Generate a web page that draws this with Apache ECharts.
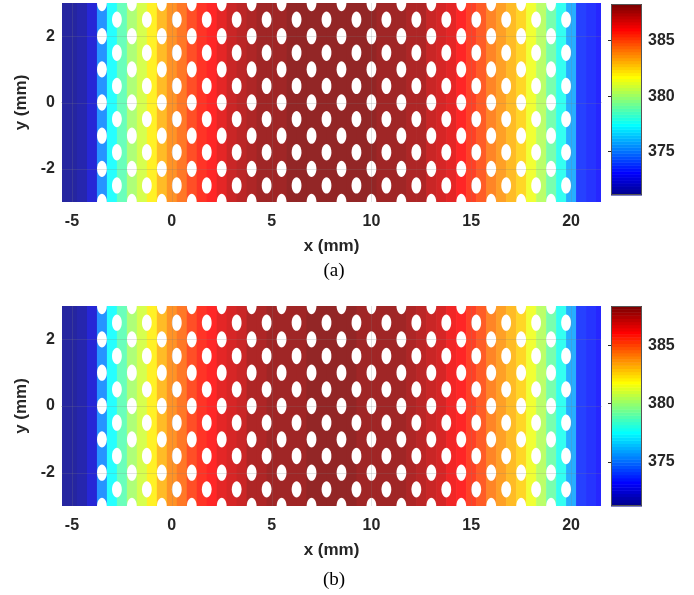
<!DOCTYPE html>
<html><head><meta charset="utf-8">
<script src="https://cdn.jsdelivr.net/npm/echarts@6/dist/echarts.min.js"></script>
<style>html,body{margin:0;padding:0;background:#fff}#c{width:694px;height:595px}</style>
</head><body><div id="c"></div>
<script>
// ---- data ----
const cellX = [-5.5,-5,-4.5,-4,-3.5,-3,-2.5,-2,-1.5,-1,-0.5,0,0.5,1,1.5,2,2.5,3,3.5,4,4.5,5,5.5,6,6.5,7,7.5,8,8.5,9,9.5,10,10.5,11,11.5,12,12.5,13,13.5,14,14.5,15,15.5,16,16.5,17,17.5,18,18.5,19,19.5,20,20.5,21,21.5];
const tempA = [371.2,371.3,371.5,372.4,375.2,377.4,378.8,380.0,381.0,382.0,383.0,383.8,384.5,385.1,385.7,386.1,386.6,387.0,387.3,387.6,387.8,387.9,388.0,388.1,388.1,388.2,388.2,388.2,388.2,388.2,388.1,388.1,388.0,388.0,387.9,387.7,387.5,387.2,386.9,386.5,386.1,385.5,384.9,384.2,383.7,383.1,382.4,381.5,380.3,378.9,377.6,375.8,373.6,373.3,373.2];
const tempB = [371.3,371.4,371.6,372.5,375.3,377.5,378.9,380.1,381.1,382.1,383.1,383.9,384.6,385.2,385.8,386.2,386.6,387.0,387.3,387.6,387.8,387.9,388.0,388.1,388.1,388.2,388.2,388.2,388.2,388.2,388.1,388.1,388.0,388.0,387.9,387.7,387.5,387.2,386.9,386.5,386.1,385.6,385.0,384.3,383.8,383.2,382.5,381.6,380.4,379.0,377.7,375.9,373.7,373.4,373.3];
const holeColX = [-3.5,-2.75,-2,-1.25,-0.5,0.25,1,1.75,2.5,3.25,4,4.75,5.5,6.25,7,7.75,8.5,9.25,10,10.75,11.5,12.25,13,13.75,14.5,15.25,16,16.75,17.5,18.25,19,19.75];
const holeRowsEven = [-3,-2,-1,0,1,2,3];
const holeRowsOdd = [-2.5,-1.5,-0.5,0.5,1.5,2.5];
const holeRadius = 0.245;
const xTicks = [-5,0,5,10,15,20];
const yTicks = [-2,0,2];
const cbTicks = [375,380,385];
const xRange = [-5.5,21.5];
const yRange = [-3,3];
const cRangeA = [371.1,388.3];
const cRangeB = [371.2,388.4];

// ---- colormap (jet, 64 levels) ----
function clamp(v){return Math.max(0,Math.min(1,v));}
function jet(t){
  return [clamp(1.5-Math.abs(4*t-3)),clamp(1.5-Math.abs(4*t-2)),clamp(1.5-Math.abs(4*t-1))];
}
function jetIndexColor(k, alpha){ // k = 1..64
  const c = jet(k/64);
  const m = v => Math.round(255*(alpha*v + (1-alpha)));
  return 'rgb('+m(c[0])+','+m(c[1])+','+m(c[2])+')';
}
function valueColor(v, range, alpha){
  let k = Math.floor((v-range[0])/(range[1]-range[0])*64)+1;
  k = Math.max(1,Math.min(64,k));
  return jetIndexColor(k, alpha);
}

// ---- build ----
const holes = [];
holeColX.forEach((x,i)=>{
  (i%2===0?holeRowsEven:holeRowsOdd).forEach(y=>holes.push([x,y]));
});
const cbLevels = [];
for (let k=1;k<=64;k++) cbLevels.push(k);

const FONT = 'Liberation Sans, Arial, Helvetica, sans-serif';
const TXT = '#262626';

function panel(idx, temps, cRange, top, height, cbTop, cbHeight){
  const gMain = idx*2, gCb = idx*2+1;
  const grids = [
    {left:62, top:top, width:539, height:height},
    {left:611, top:cbTop, width:31, height:cbHeight}
  ];
  const xAxes = [
    {gridIndex:gMain, type:'value', min:xRange[0], max:xRange[1],
      axisLine:{show:true, lineStyle:{color:'#9a9a9a', width:1}},
      axisTick:{show:true, inside:true, length:4, customValues:xTicks, lineStyle:{color:TXT}},
      axisLabel:{customValues:xTicks, color:TXT, fontFamily:FONT, fontWeight:'bold', fontSize:16, margin:12},
      splitLine:{show:false},
      name:'x (mm)', nameLocation:'middle', nameGap:36,
      nameTextStyle:{color:TXT, fontFamily:FONT, fontWeight:'bold', fontSize:17}},
    {gridIndex:gCb, type:'value', min:0, max:1, show:false}
  ];
  const yAxes = [
    {gridIndex:gMain, type:'value', min:yRange[0], max:yRange[1],
      axisLine:{show:false},
      axisTick:{show:true, inside:true, length:4, customValues:yTicks, lineStyle:{color:TXT}},
      axisLabel:{customValues:yTicks, color:TXT, fontFamily:FONT, fontWeight:'bold', fontSize:16, margin:7},
      splitLine:{show:false},
      name:'y (mm)', nameLocation:'middle', nameGap:27,
      nameTextStyle:{color:TXT, fontFamily:FONT, fontWeight:'bold', fontSize:17}},
    {gridIndex:gCb, type:'value', position:'right', min:cRange[0], max:cRange[1],
      axisLine:{show:false},
      axisTick:{show:true, inside:true, length:3, customValues:cbTicks, lineStyle:{color:TXT}},
      axisLabel:{customValues:cbTicks, color:TXT, fontFamily:FONT, fontWeight:'bold', fontSize:16, margin:6},
      splitLine:{show:false}}
  ];
  const series = [
    { // temperature cells
      type:'custom', xAxisIndex:gMain, yAxisIndex:gMain, clip:true, z:2, silent:true,
      data: cellX.map((x,i)=>[x, temps[i]]),
      renderItem:(params, api)=>{
        const i = params.dataIndex;
        const x = api.value(0);
        const l = i>0 ? (cellX[i-1]+x)/2 : xRange[0];
        const r = i<cellX.length-1 ? (cellX[i+1]+x)/2 : xRange[1];
        const p0 = api.coord([l, yRange[1]]);
        const p1 = api.coord([r, yRange[0]]);
        return {type:'rect', shape:{x:p0[0], y:p0[1], width:p1[0]-p0[0]+0.6, height:p1[1]-p0[1]},
          style:{fill:valueColor(api.value(1), cRange, 0.85), stroke:null}};
      }
    },
    { // holes
      type:'custom', xAxisIndex:gMain, yAxisIndex:gMain, clip:true, z:3, silent:true,
      data: holes,
      renderItem:(params, api)=>{
        const c = api.coord([api.value(0), api.value(1)]);
        const s = api.size([holeRadius, holeRadius]);
        return {type:'ellipse', shape:{cx:c[0], cy:c[1], rx:s[0], ry:s[1]}, style:{fill:'#ffffff'}};
      }
    },
    { // grid lines
      type:'custom', xAxisIndex:gMain, yAxisIndex:gMain, clip:true, z:4, silent:true,
      data: xTicks.map(v=>[v, 0, 0]).concat(yTicks.map(v=>[0, v, 1])),
      renderItem:(params, api)=>{
        const cs = params.coordSys;
        let shape;
        if (api.value(2)===0){
          const p = api.coord([api.value(0), 0]);
          shape = {x1:Math.round(p[0])+0.5, y1:cs.y, x2:Math.round(p[0])+0.5, y2:cs.y+cs.height};
        } else {
          const p = api.coord([0, api.value(1)]);
          shape = {x1:cs.x, y1:Math.round(p[1])+0.5, x2:cs.x+cs.width, y2:Math.round(p[1])+0.5};
        }
        return {type:'line', shape:shape, style:{stroke:'rgba(128,128,128,0.22)', lineWidth:1}};
      }
    },
    { // colorbar
      type:'custom', xAxisIndex:gCb, yAxisIndex:gCb, clip:false, z:2, silent:true,
      data: cbLevels.map(k=>[0.5, k]),
      renderItem:(params, api)=>{
        const k = api.value(1);
        const cs = params.coordSys;
        const h = cs.height/64;
        const yb = cs.y + cs.height - (k)*h;
        const items = [{type:'rect', shape:{x:cs.x, y:yb, width:cs.width, height:h+0.5},
          style:{fill:jetIndexColor(k,1)}}];
        if (k===64){
          items.push({type:'rect', shape:{x:cs.x+0.5, y:cs.y+0.5, width:cs.width-1, height:cs.height-1},
            style:{fill:null, stroke:'#555555', lineWidth:1}, z2:10});
        }
        return {type:'group', children:items};
      }
    }
  ];
  return {grids, xAxes, yAxes, series};
}

const pa = panel(0, tempA, cRangeA, 3, 199, 4, 191);
const pb = panel(1, tempB, cRangeB, 306, 200, 306, 200);

const chart = echarts.init(document.getElementById('c'), null, {renderer:'canvas'});
chart.setOption({
  animation:false,
  backgroundColor:'#ffffff',
  grid: pa.grids.concat(pb.grids),
  xAxis: pa.xAxes.concat(pb.xAxes),
  yAxis: pa.yAxes.concat(pb.yAxes),
  series: pa.series.concat(pb.series),
  graphic: [
    {type:'text', x:334, y:271, style:{text:'(a)', fill:'#000', font:'19px "Liberation Serif", "Times New Roman", serif', textAlign:'center', textVerticalAlign:'middle'}},
    {type:'text', x:334, y:580, style:{text:'(b)', fill:'#000', font:'19px "Liberation Serif", "Times New Roman", serif', textAlign:'center', textVerticalAlign:'middle'}}
  ]
});
</script></body></html>
